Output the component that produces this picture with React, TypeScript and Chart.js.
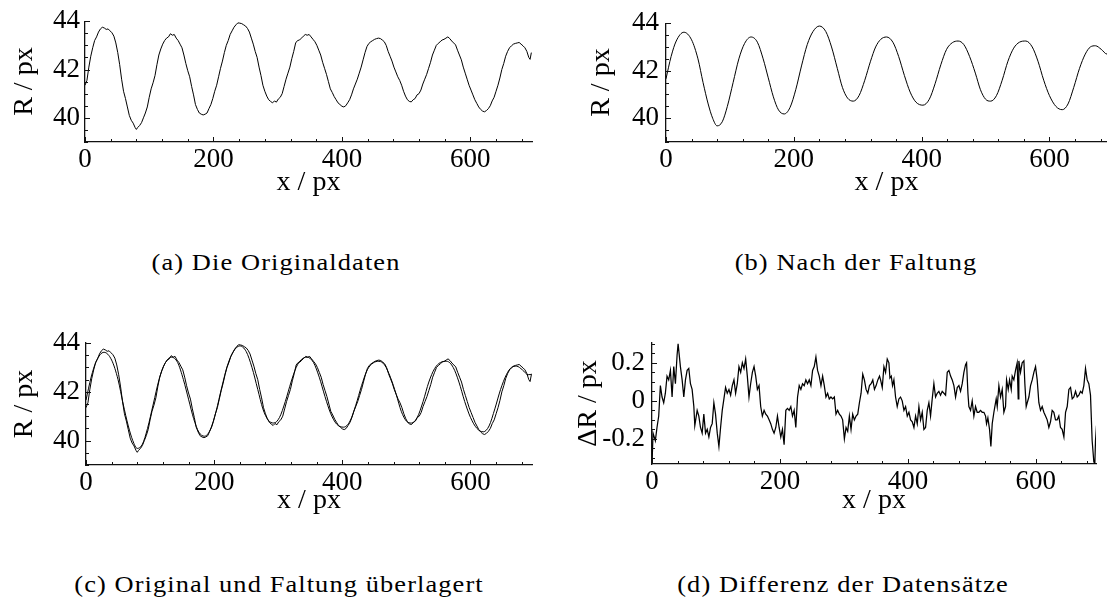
import React, { useEffect, useRef } from "react";
import { Chart, registerables } from "chart.js";

Chart.register(...registerables);

const SERIF = '"Liberation Serif", "Times New Roman", serif';

// Original radius profile R(x)
const originalX = [
  0, 3, 6, 9, 12, 15, 18, 21, 24, 27,
  30, 33, 36, 39, 42, 45, 48, 51, 54, 57,
  60, 63, 66, 69, 72, 75, 78, 80, 82, 85,
  88, 91, 94, 97, 100, 103, 106, 109, 112, 115,
  118, 121, 124, 127, 130, 133, 136, 139, 142, 145,
  148, 151, 154, 157, 160, 163, 166, 169, 172, 175,
  178, 181, 184, 187, 190, 193, 196, 199, 202, 205,
  208, 211, 214, 217, 220, 223, 226, 229, 232, 235,
  238, 241, 244, 247, 250, 253, 256, 259, 262, 265,
  268, 271, 274, 277, 280, 283, 286, 289, 292, 295,
  298, 301, 304, 307, 310, 313, 316, 319, 322, 325,
  328, 331, 334, 337, 340, 343, 346, 349, 352, 355,
  358, 361, 364, 367, 370, 373, 376, 379, 382, 385,
  388, 391, 394, 397, 400, 403, 406, 409, 412, 415,
  418, 421, 424, 427, 430, 433, 436, 439, 442, 445,
  448, 451, 454, 457, 460, 463, 466, 469, 472, 475,
  478, 481, 484, 487, 490, 493, 496, 499, 502, 505,
  508, 511, 514, 517, 520, 523, 526, 529, 532, 535,
  538, 541, 544, 547, 550, 553, 556, 559, 562, 565,
  568, 571, 574, 577, 580, 583, 586, 589, 592, 595,
  598, 601, 604, 607, 610, 613, 616, 619, 622, 625,
  628, 631, 634, 637, 640, 643, 646, 649, 652, 655,
  658, 661, 664, 667, 670, 673, 676, 679, 682, 685,
  688, 691, 693, 695,
];
const originalR = [
  41.35, 41.55, 42.1, 42.55, 42.9, 43.2, 43.35, 43.55, 43.68, 43.75,
  43.72, 43.66, 43.68, 43.6, 43.52, 43.38, 43.1, 42.7, 42.2, 41.6,
  41.1, 40.8, 40.45, 40.1, 39.9, 39.78, 39.6, 39.52, 39.6, 39.68,
  39.8, 40.0, 40.2, 40.45, 40.85, 41.2, 41.45, 41.75, 42.2, 42.6,
  42.85, 43.05, 43.2, 43.3, 43.35, 43.48, 43.42, 43.45, 43.3, 43.2,
  43.05, 42.9, 42.6, 42.25, 41.95, 41.7, 41.3, 40.95, 40.55, 40.35,
  40.2, 40.15, 40.12, 40.15, 40.2, 40.38, 40.55, 40.8, 41.1, 41.35,
  41.7, 42.05, 42.35, 42.7, 43.0, 43.2, 43.45, 43.6, 43.75, 43.85,
  43.93, 43.92, 43.9, 43.85, 43.8, 43.7, 43.55, 43.3, 43.05, 42.75,
  42.5, 42.1, 41.75, 41.35, 41.1, 40.9, 40.75, 40.68, 40.62, 40.7,
  40.65, 40.78, 40.85, 41.0, 41.3, 41.6, 41.85, 42.1, 42.45, 42.75,
  43.1, 43.2, 43.22, 43.3, 43.38, 43.45, 43.42, 43.45, 43.35, 43.25,
  43.15, 43.0, 42.8, 42.6, 42.3, 42.05, 41.8, 41.5, 41.2, 41.05,
  40.88, 40.75, 40.62, 40.55, 40.48, 40.45, 40.5, 40.62, 40.75, 40.95,
  41.2, 41.4, 41.6, 41.85, 42.1, 42.4, 42.7, 42.95, 43.08, 43.15,
  43.2, 43.25, 43.28, 43.3, 43.28, 43.22, 43.15, 43.0, 42.75, 42.55,
  42.35, 42.1, 41.9, 41.7, 41.55, 41.35, 41.1, 40.9, 40.75, 40.68,
  40.66, 40.75, 40.8, 40.95, 41.0, 41.15, 41.4, 41.6, 41.8, 42.05,
  42.3, 42.6, 42.8, 43.0, 43.08, 43.15, 43.22, 43.25, 43.3, 43.35,
  43.28, 43.18, 43.1, 43.02, 42.8, 42.6, 42.4, 42.1, 41.85, 41.6,
  41.35, 41.15, 40.95, 40.75, 40.6, 40.45, 40.35, 40.28, 40.25, 40.3,
  40.38, 40.5, 40.7, 40.85, 41.1, 41.35, 41.65, 42.0, 42.25, 42.55,
  42.75, 42.9, 42.98, 43.05, 43.08, 43.1, 43.12, 43.05, 42.98, 42.9,
  42.75, 42.5, 42.42, 42.7,
];

// Profile after convolution (smooth)
const foldedX = [
  0, 8, 16, 28, 40, 50, 58, 66, 73, 80,
  88, 96, 105, 114, 123, 133, 143, 152, 160, 168,
  176, 185, 194, 203, 212, 221, 230, 240, 250, 259,
  268, 276, 284, 293, 302, 311, 320, 328, 336, 345,
  355, 364, 373, 382, 391, 402, 412, 421, 430, 439,
  448, 457, 466, 475, 484, 492, 500, 508, 517, 526,
  535, 544, 553, 563, 573, 582, 591, 600, 610, 620,
  629, 638, 647, 656, 664, 672, 681, 690, 696,
];
const foldedR = [
  41.66, 42.6, 43.25, 43.62, 43.3, 42.5, 41.5, 40.6, 40.0, 39.68,
  39.85, 40.5, 41.5, 42.5, 43.15, 43.42, 43.2, 42.5, 41.7, 40.9,
  40.35, 40.18, 40.45, 41.2, 42.2, 43.1, 43.65, 43.88, 43.65, 43.0,
  42.1, 41.3, 40.85, 40.72, 40.95, 41.6, 42.4, 43.0, 43.32, 43.42,
  43.2, 42.6, 41.8, 41.1, 40.68, 40.55, 40.8, 41.45, 42.25, 42.9,
  43.18, 43.25, 43.1, 42.6, 41.9, 41.2, 40.8, 40.72, 40.95, 41.6,
  42.4, 42.95, 43.2, 43.25, 43.0, 42.4, 41.6, 40.95, 40.5, 40.36,
  40.6, 41.3, 42.1, 42.7, 43.0, 43.05, 42.9, 42.7, 42.72,
];

// Difference original - convolution
const diffX = [
  0.0, 1.6, 5.2, 7.8, 10.5, 13.1, 15.7, 18.3, 20.9, 23.5,
  26.1, 28.8, 31.4, 34.0, 36.6, 39.2, 40.8, 44.4, 47.1, 49.7,
  52.3, 54.9, 57.5, 60.1, 62.7, 65.4, 66.9, 70.6, 73.2, 75.8,
  78.4, 81.0, 83.7, 86.3, 88.9, 91.5, 94.1, 96.7, 99.3, 102.0,
  104.6, 107.2, 109.8, 112.4, 115.0, 117.6, 120.3, 122.9, 125.5, 128.1,
  130.7, 133.3, 135.9, 138.6, 141.2, 143.8, 146.4, 149.0, 151.6, 154.2,
  156.9, 159.5, 162.1, 164.7, 167.3, 169.9, 172.5, 175.2, 177.8, 180.4,
  183.0, 185.6, 188.2, 190.8, 193.5, 196.1, 198.7, 201.3, 203.9, 206.5,
  209.2, 211.8, 214.4, 217.0, 219.6, 222.2, 224.8, 227.5, 230.1, 232.7,
  235.3, 237.9, 240.5, 243.1, 245.8, 248.4, 251.0, 253.6, 256.2, 258.8,
  261.4, 264.1, 266.7, 269.3, 271.9, 274.5, 277.1, 279.7, 282.4, 285.0,
  287.6, 290.2, 292.8, 295.4, 298.0, 300.7, 303.3, 305.9, 308.5, 311.1,
  313.7, 316.3, 319.0, 321.6, 324.2, 326.8, 329.4, 332.0, 334.6, 337.3,
  339.9, 342.5, 345.1, 347.7, 350.3, 353.0, 355.6,
  357.3, 359.9, 362.5, 365.1, 367.7, 370.3, 371.9, 374.0, 376.0, 378.1,
  380.7, 383.3, 385.9, 388.5, 391.1, 393.8, 396.4, 399.0, 401.6, 404.2,
  406.8, 409.4, 412.0, 414.6, 417.2, 419.8, 422.4, 425.0, 427.6, 430.2,
  432.8, 435.4, 438.0, 440.6, 443.2, 445.8, 448.4, 451.0, 453.6, 456.3,
  458.9, 461.5, 464.1, 466.7, 469.3, 471.9, 474.5, 477.1, 479.7, 482.3,
  484.9, 487.5, 490.1, 491.7, 493.8, 495.3, 497.9, 500.5, 503.1, 505.7,
  508.3, 510.9, 513.5, 516.1, 518.8, 521.4, 522.9, 525.0, 527.6, 529.7,
  531.8, 534.4, 535.9, 538.0, 539.6, 542.2, 544.8, 547.4, 550.0, 552.6,
  554.2, 556.8, 558.9, 561.5, 563.0, 565.6, 568.2, 570.8, 572.4, 573.4,
  576.0, 578.6, 581.3, 582.8, 584.9, 586.5, 589.1, 591.7, 594.3, 596.9,
  599.5, 602.1, 604.7, 607.3, 609.9, 612.5, 615.1, 617.7, 620.3, 622.9,
  625.5, 628.1, 630.7, 633.3, 635.9, 638.5, 641.1, 643.8, 646.4, 649.0,
  651.6, 654.2, 656.8, 659.4, 662.0, 664.6, 667.2, 669.8, 672.4, 675.0,
  677.6, 680.2, 682.8, 685.4, 688.0, 690.6, 692.2, 693.2, 694.8,
];
const diffR = [
  -0.34, -0.17, -0.21, -0.14, -0.08, 0.08, 0.02, -0.01, 0.04, 0.13,
  0.11, 0.16, 0.02, 0.18, 0.09, 0.24, 0.30, 0.18, 0.11, 0.02,
  0.11, 0.16, 0.17, 0.09, 0.06, -0.03, -0.13, -0.05, -0.08, -0.14,
  -0.17, -0.07, -0.17, -0.15, -0.19, -0.14, -0.12, -0.01, -0.07, -0.17,
  -0.24, -0.14, -0.05, 0.01, 0.07, 0.04, 0.06, 0.03, 0.08, 0.11,
  0.04, 0.09, 0.18, 0.15, 0.20, 0.17, 0.22, 0.13, 0.02, 0.09,
  0.15, 0.18, 0.13, 0.06, 0.08, -0.03, -0.08, -0.05, -0.07, -0.08,
  -0.10, -0.12, -0.15, -0.17, -0.14, -0.08, -0.14, -0.19, -0.15, -0.23,
  -0.05, -0.04, -0.05, -0.03, -0.08, -0.05, -0.14, 0.02, 0.08, 0.06,
  0.09, 0.08, 0.11, 0.09, 0.11, 0.08, 0.16, 0.18, 0.23, 0.16,
  0.13, 0.08, 0.13, 0.08, 0.02, 0.04, 0.01, 0.02, 0.01, 0.02,
  -0.07, -0.05, -0.07, -0.08, -0.10, -0.20, -0.14, -0.16, -0.08, -0.15,
  -0.07, -0.10, -0.08, -0.07, -0.01, 0.04, 0.14, 0.11, 0.06, 0.04,
  0.08, 0.09, 0.11, 0.06, 0.08, 0.11, 0.13,
  0.11, 0.07, 0.18, 0.15, 0.22, 0.20, 0.12, 0.13, 0.08, 0.11,
  0.02, -0.03, 0.01, 0.02, 0.00, -0.05, -0.03, -0.08, -0.06, -0.10,
  -0.11, -0.14, -0.08, -0.12, -0.03, -0.10, -0.06, -0.15, -0.14, -0.05,
  -0.01, -0.08, 0.01, 0.09, 0.02, 0.04, 0.05, 0.03, 0.05, 0.04,
  0.03, 0.15, 0.16, 0.13, 0.11, 0.08, 0.02, 0.07, 0.08, 0.05,
  0.09, 0.15, 0.19, 0.20, 0.04, -0.03, -0.05, 0.00, -0.08, -0.03,
  -0.06, -0.06, -0.05, -0.06, -0.06, -0.08, -0.12, -0.09, -0.15, -0.24,
  -0.12, -0.06, -0.03, 0.01, -0.03, 0.08, 0.02, 0.06, -0.06, -0.03,
  0.11, 0.06, 0.11, 0.06, 0.13, 0.11, 0.16, 0.20, 0.01, 0.21,
  0.15, 0.20, 0.21, 0.09, -0.03, -0.01, 0.02, 0.08, 0.11, 0.15,
  0.18, 0.11, -0.01, -0.05, -0.03, -0.06, -0.08, -0.10, -0.14, -0.11,
  -0.05, -0.06, -0.10, -0.10, -0.08, -0.14, -0.15, -0.19, -0.06, -0.03,
  0.06, 0.07, 0.01, 0.02, 0.05, 0.02, 0.03, 0.05, 0.04, 0.08,
  0.17, 0.11, 0.09, 0.03, -0.21, -0.32, -0.33, -0.21, -0.13,
];

// Axis ticks (every tick gets a mark, only the listed ones get a label)
const xTicks = [0, 40, 80, 120, 160, 200, 240, 280, 320, 360, 400, 440, 480, 520, 560, 600, 640, 680];
const xLabelValues = [0, 200, 400, 600];
const xLabelTexts = ["0", "200", "400", "600"];
const rTicks = [39, 39.5, 40, 40.5, 41, 41.5, 42, 42.5, 43, 43.5, 44];
const rLabelValues = [40, 42, 44];
const rLabelTexts = ["40", "42", "44"];
const dTicks = [-0.3, -0.25, -0.2, -0.15, -0.1, -0.05, 0, 0.05, 0.1, 0.15, 0.2, 0.25, 0.3];
const dLabelValues = [-0.2, 0, 0.2];
const dLabelTexts = ["-0.2", "0", "0.2"];

const captions = [
  "(a) Die Originaldaten",
  "(b) Nach der Faltung",
  "(c) Original und Faltung überlagert",
  "(d) Differenz der Datensätze",
];

const near = (v: number, list: number[]) => list.findIndex((l) => Math.abs(l - v) < 1e-6);

// Mathematica-style tick marks pointing into the plot
const inwardTicks = {
  id: "inwardTicks",
  afterDraw(chart: any, _args: any, opts: any) {
    const { ctx, chartArea } = chart;
    const xs = chart.scales.x;
    const ys = chart.scales.y;
    ctx.save();
    ctx.strokeStyle = "#111";
    ctx.lineWidth = 1;
    ctx.beginPath();
    for (const t of xs.ticks) {
      const px = Math.round(xs.getPixelForValue(t.value)) + 0.5;
      const len = near(t.value, opts.xMajor) >= 0 ? 5 : 3;
      ctx.moveTo(px, chartArea.bottom);
      ctx.lineTo(px, chartArea.bottom - len);
    }
    for (const t of ys.ticks) {
      const py = Math.round(ys.getPixelForValue(t.value)) + 0.5;
      const len = near(t.value, opts.yMajor) >= 0 ? 5 : 3;
      ctx.moveTo(chartArea.left, py);
      ctx.lineTo(chartArea.left + len, py);
    }
    ctx.stroke();
    ctx.restore();
  },
};

type Series = { xs: number[]; ys: number[]; smooth: boolean; width: number };
type Frame = {
  left: number; top: number; width: number; height: number;
  padTop: number; padRight: number; yWidth: number; xHeight: number;
  yTitlePad: number; xTitlePad: number; yTickPad: number; xTickPad: number;
};
type PanelProps = {
  series: Series[];
  xMax: number; yMin: number; yMax: number;
  yTicks: number[]; yLabelValues: number[]; yLabelTexts: string[];
  yTitle: string;
  frame: Frame;
};

function Panel({ series, xMax, yMin, yMax, yTicks, yLabelValues, yLabelTexts, yTitle, frame }: PanelProps) {
  const ref = useRef<HTMLCanvasElement>(null);
  useEffect(() => {
    const tickFont = { family: SERIF, size: 27 };
    const titleFont = { family: SERIF, size: 28 };
    const chart = new Chart(ref.current as HTMLCanvasElement, {
      type: "line",
      data: {
        datasets: series.map((s) => ({
          data: s.xs.map((x, i) => ({ x, y: s.ys[i] })),
          borderColor: "#000",
          borderWidth: s.width,
          pointRadius: 0,
          fill: false,
          tension: 0,
          cubicInterpolationMode: s.smooth ? "monotone" : "default",
        })),
      },
      options: {
        animation: false,
        responsive: false,
        events: [],
        layout: { padding: { top: frame.padTop, right: frame.padRight, bottom: 0, left: 0 } },
        plugins: {
          legend: { display: false },
          tooltip: { enabled: false },
          inwardTicks: { xMajor: xLabelValues, yMajor: yLabelValues },
        } as any,
        scales: {
          x: {
            type: "linear",
            min: 0,
            max: xMax,
            grid: { display: false, drawTicks: false, tickLength: 0 },
            border: { display: true, color: "#111", width: 1.3 },
            afterBuildTicks: (s: any) => {
              s.ticks = xTicks.map((v) => ({ value: v }));
            },
            afterFit: (s: any) => {
              s.height = frame.xHeight;
            },
            ticks: {
              autoSkip: false,
              maxRotation: 0,
              padding: frame.xTickPad,
              color: "#000",
              font: tickFont,
              callback: (v: any) => {
                const i = near(Number(v), xLabelValues);
                return i >= 0 ? xLabelTexts[i] : "";
              },
            },
            title: {
              display: true,
              text: "x / px",
              color: "#000",
              font: titleFont,
              padding: { top: 0, bottom: frame.xTitlePad },
            },
          },
          y: {
            type: "linear",
            min: yMin,
            max: yMax,
            grid: { display: false, drawTicks: false, tickLength: 0 },
            border: { display: true, color: "#111", width: 1.3 },
            afterBuildTicks: (s: any) => {
              s.ticks = yTicks.map((v) => ({ value: v }));
            },
            afterFit: (s: any) => {
              s.width = frame.yWidth;
            },
            ticks: {
              autoSkip: false,
              padding: frame.yTickPad,
              color: "#000",
              font: tickFont,
              callback: (v: any) => {
                const i = near(Number(v), yLabelValues);
                return i >= 0 ? yLabelTexts[i] : "";
              },
            },
            title: {
              display: true,
              text: yTitle,
              color: "#000",
              font: titleFont,
              padding: { top: frame.yTitlePad, bottom: 0 },
            },
          },
        },
      } as any,
      plugins: [inwardTicks],
    });
    return () => chart.destroy();
  }, []);
  return (
    <canvas
      ref={ref}
      width={frame.width}
      height={frame.height}
      style={{ position: "absolute", left: frame.left, top: frame.top, width: frame.width, height: frame.height }}
    />
  );
}

function Caption({ text, cx, top }: { text: string; cx: number; top: number }) {
  return (
    <div
      style={{
        position: "absolute",
        left: cx - 300,
        top,
        width: 600,
        textAlign: "center",
        fontFamily: SERIF,
        fontSize: 24,
        lineHeight: "24px",
        letterSpacing: "1px",
        transform: "scaleX(1.1)",
        transformOrigin: "center",
        color: "#000",
        whiteSpace: "nowrap",
      }}
    >
      {text}
    </div>
  );
}

export default function App() {
  const original = { xs: originalX, ys: originalR, smooth: false, width: 1 };
  const folded = { xs: foldedX, ys: foldedR, smooth: true, width: 1 };
  const diff = { xs: diffX, ys: diffR, smooth: false, width: 1.25 };
  return (
    <div style={{ position: "absolute", left: 0, top: 0, width: 1107, height: 601, overflow: "hidden", background: "#fff" }}>
      <Panel
        series={[original]} xMax={696} yMin={39} yMax={44}
        yTicks={rTicks} yLabelValues={rLabelValues} yLabelTexts={rLabelTexts} yTitle="R / px"
        frame={{ left: 0, top: 0, width: 545, height: 210, padTop: 20, padRight: 13, yWidth: 85, xHeight: 68, yTitlePad: 8, xTitlePad: 11, yTickPad: 5, xTickPad: 2 }}
      />
      <Panel
        series={[folded]} xMax={690} yMin={39} yMax={44}
        yTicks={rTicks} yLabelValues={rLabelValues} yLabelTexts={rLabelTexts} yTitle="R / px"
        frame={{ left: 575, top: 0, width: 532, height: 210, padTop: 20, padRight: 0, yWidth: 91, xHeight: 68, yTitlePad: 10, xTitlePad: 11, yTickPad: 7, xTickPad: 2 }}
      />
      <Panel
        series={[original, folded]} xMax={696} yMin={39} yMax={44}
        yTicks={rTicks} yLabelValues={rLabelValues} yLabelTexts={rLabelTexts} yTitle="R / px"
        frame={{ left: 0, top: 310, width: 545, height: 210, padTop: 33, padRight: 13, yWidth: 86, xHeight: 55, yTitlePad: 8, xTitlePad: 3, yTickPad: 6, xTickPad: 2 }}
      />
      <Panel
        series={[diff]} xMax={694} yMin={-0.332} yMax={0.304}
        yTicks={dTicks} yLabelValues={dLabelValues} yLabelTexts={dLabelTexts} yTitle="ΔR / px"
        frame={{ left: 560, top: 310, width: 547, height: 210, padTop: 33, padRight: 11, yWidth: 92, xHeight: 56, yTitlePad: 12, xTitlePad: 3, yTickPad: 7, xTickPad: 2 }}
      />
      <Caption text={captions[0]} cx={276} top={250} />
      <Caption text={captions[1]} cx={856} top={250} />
      <Caption text={captions[2]} cx={279} top={572} />
      <Caption text={captions[3]} cx={843} top={572} />
    </div>
  );
}
